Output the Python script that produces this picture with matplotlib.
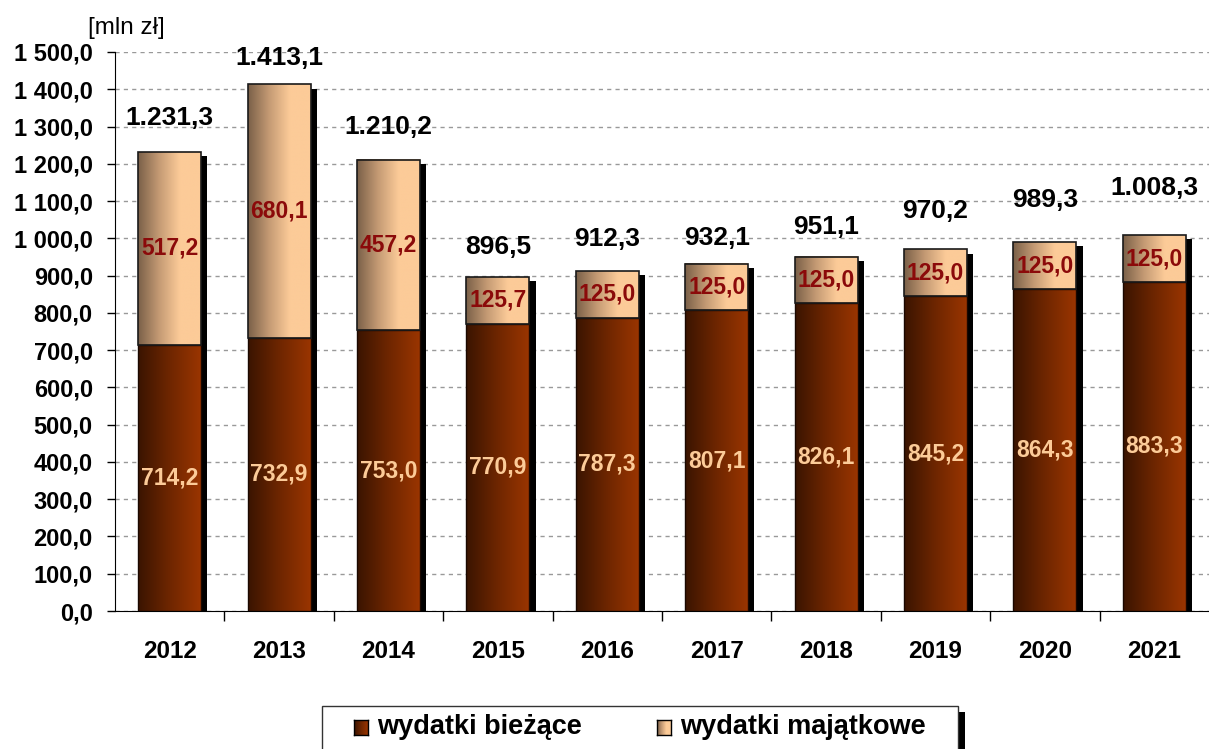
import matplotlib
matplotlib.use("Agg")
import matplotlib.pyplot as plt
import numpy as np
from matplotlib.colors import LinearSegmentedColormap
from matplotlib.patches import Rectangle

years = ["2012", "2013", "2014", "2015", "2016", "2017", "2018", "2019", "2020", "2021"]
biezace = [714.2, 732.9, 753.0, 770.9, 787.3, 807.1, 826.1, 845.2, 864.3, 883.3]
majatkowe = [517.2, 680.1, 457.2, 125.7, 125.0, 125.0, 125.0, 125.0, 125.0, 125.0]
totals = [1231.3, 1413.1, 1210.2, 896.5, 912.3, 932.1, 951.1, 970.2, 989.3, 1008.3]
series_names = ["wydatki bieżące", "wydatki majątkowe"]

# layout: distance (px) of each total label centre above its bar top
total_label_gap_px = [34, 26, 33, 30, 32, 26, 30, 38, 42, 47]

plt.rcParams['font.family'] = ['Liberation Sans', 'DejaVu Sans']

W, H = 1209, 749
fig = plt.figure(figsize=(W / 100, H / 100), dpi=100)
ax = fig.add_axes([115 / W, 138 / H, (1209 - 115) / W, (611 - 52) / H])

cmap_low = LinearSegmentedColormap.from_list("low", ["#3a1400", "#6e2600", "#9a3500"])
cmap_up = LinearSegmentedColormap.from_list("up", ["#7a6048", "#c49a74", "#fccb98", "#fccb98"])
grad = np.linspace(0, 1, 256).reshape(1, -1)

bw = 0.575
x = np.arange(len(years))
dx = 0.057
dy = 11

for i in range(len(years)):
    x0, x1 = x[i] - bw / 2, x[i] + bw / 2
    lo = biezace[i]
    top = biezace[i] + majatkowe[i]
    ax.add_patch(Rectangle((x0 + dx, -50), bw, top + 50 - dy, facecolor="black",
                           edgecolor="none", zorder=2))
    ax.imshow(grad, extent=[x0, x1, 0, lo], aspect="auto", cmap=cmap_low, zorder=3,
              interpolation="bilinear")
    ax.imshow(grad, extent=[x0, x1, lo, top], aspect="auto", cmap=cmap_up, zorder=3,
              interpolation="bilinear")
    ax.add_patch(Rectangle((x0, 0), bw, lo, facecolor="none", edgecolor="#1a0800",
                           lw=1.0, zorder=4))
    ax.add_patch(Rectangle((x0, lo), bw, majatkowe[i], facecolor="none", edgecolor="#1a1a1a",
                           lw=1.2, zorder=4))
    ax.text(x[i], lo / 2, f"{biezace[i]:.1f}".replace(".", ","), ha="center", va="center",
            color="#fccb98", fontsize=16.5, fontweight="bold", zorder=5)
    ax.text(x[i], lo + majatkowe[i] / 2, f"{majatkowe[i]:.1f}".replace(".", ","), ha="center",
            va="center", color="#8b0a0a", fontsize=16.5, fontweight="bold", zorder=5)
    t = totals[i]
    s = f"{t:,.1f}".replace(",", "X").replace(".", ",").replace("X", ".")
    ax.annotate(s, (x[i], top), xytext=(0, total_label_gap_px[i] * 0.72), textcoords="offset points",
                ha="center", va="center", fontsize=19, fontweight="bold", color="black", zorder=5,
                annotation_clip=False)

ax.set_xlim(-0.5, len(years) - 0.5)
ax.set_ylim(0, 1500)
ax.set_yticks(np.arange(0, 1501, 100))
ax.set_yticklabels([f"{v:,.1f}".replace(",", " ").replace(".", ",") for v in np.arange(0, 1501, 100)],
                   fontsize=17, fontweight="bold")
ax.set_xticks(x)
ax.set_xticklabels(years, fontsize=17.5, fontweight="bold")
ax.tick_params(axis="x", length=0, pad=21)
ax.set_xticks(np.arange(0.5, len(years) - 0.5, 1), minor=True)
ax.tick_params(axis="x", which="minor", length=7, width=1, color="black")
ax.tick_params(axis="y", length=6, width=1, pad=10)
ax.grid(axis="y", color="#999999", linestyle=(0, (3, 3)), lw=1, zorder=0)
ax.set_axisbelow(True)
for sp in ["top", "right"]:
    ax.spines[sp].set_visible(False)
ax.spines["left"].set_color("black")
ax.spines["bottom"].set_color("black")

fig.text(88 / W, 1 - 28 / H, "[mln zł]", fontsize=17.5, ha="left", va="center")

# legend
lx0, lx1, ly0 = 322, 958, 706
fig.patches.append(Rectangle(((lx0 + 7) / W, 0), (lx1 - lx0) / W, (H - ly0 - 6) / H,
                             transform=fig.transFigure, facecolor="black", edgecolor="none", zorder=1))
fig.patches.append(Rectangle((lx0 / W, -0.01), (lx1 - lx0) / W, (H - ly0) / H + 0.01,
                             transform=fig.transFigure, facecolor="white", edgecolor="#333333",
                             lw=1, zorder=2))
for (sx, tx, name, cm) in [(354, 377, series_names[0], cmap_low), (657, 680, series_names[1], cmap_up)]:
    iax = fig.add_axes([sx / W, 1 - 735 / H, 14 / W, 15 / H], zorder=3)
    iax.imshow(grad, aspect="auto", cmap=cm, extent=[0, 1, 0, 1])
    iax.set_xticks([]); iax.set_yticks([])
    for sp in iax.spines.values():
        sp.set_color("black"); sp.set_linewidth(1)
    fig.text(tx / W, 1 - 727 / H, name, fontsize=19.5, fontweight="bold", ha="left", va="center",
             zorder=4)

fig.savefig("out.png", dpi=100)
